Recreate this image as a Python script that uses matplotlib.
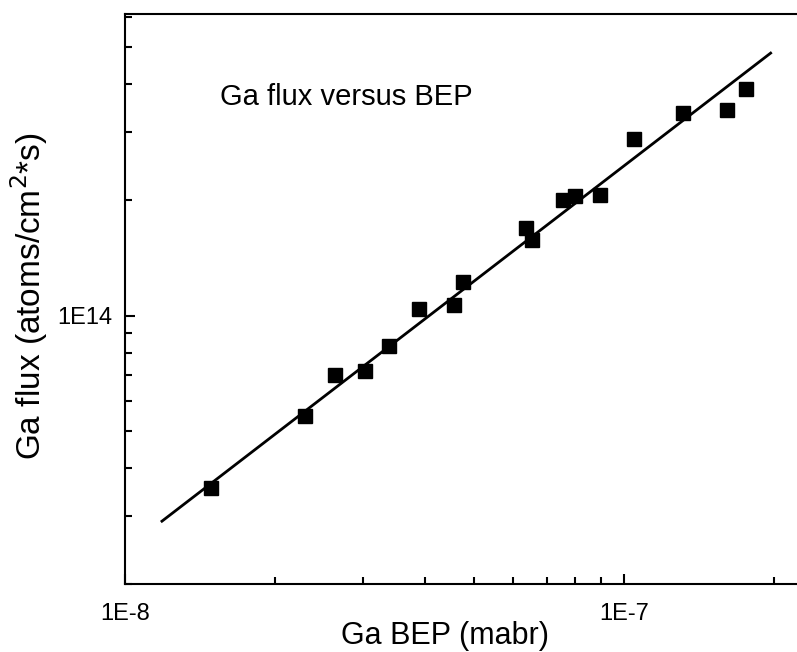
import matplotlib
matplotlib.use("Agg")
import matplotlib.pyplot as plt
from matplotlib.ticker import LogLocator, NullFormatter, FixedLocator, FixedFormatter

plt.rcParams['font.family'] = ['Liberation Sans', 'DejaVu Sans']

# Data
bep = [1.49e-8, 2.30e-8, 2.64e-8, 3.03e-8, 3.38e-8, 3.89e-8, 4.57e-8, 4.76e-8,
       6.36e-8, 6.54e-8, 7.55e-8, 7.97e-8, 8.97e-8, 1.047e-7, 1.315e-7, 1.61e-7, 1.756e-7]
flux = [3.56e13, 5.47e13, 7.02e13, 7.19e13, 8.32e13, 1.041e14, 1.066e14, 1.221e14,
        1.692e14, 1.575e14, 2.00e14, 2.045e14, 2.06e14, 2.89e14, 3.36e14, 3.44e14, 3.885e14]
fit_x = [1.18e-8, 1.98e-7]
fit_y = [2.90e13, 4.85e14]

x_ticks = [1e-8, 1e-7]
x_ticklabels = ["1E-8", "1E-7"]
y_ticks = [1e14]
y_ticklabels = ["1E14"]

W, H = 797, 652
fig = plt.figure(figsize=(W / 100, H / 100), dpi=100)
ax = fig.add_axes([125 / W, (H - 584) / H, 682 / W, 570 / H])

ax.plot(fit_x, fit_y, color='black', lw=2.0, solid_capstyle='butt')
ax.plot(bep, flux, linestyle='none', marker='s', markersize=10, color='black')

ax.set_xscale('log')
ax.set_yscale('log')
ax.set_xlim(1e-8, 2.33e-7)
ax.set_ylim(2e13, 6.1e14)

ax.xaxis.set_major_locator(FixedLocator(x_ticks))
ax.xaxis.set_major_formatter(FixedFormatter(x_ticklabels))
ax.yaxis.set_major_locator(FixedLocator(y_ticks))
ax.yaxis.set_major_formatter(FixedFormatter(y_ticklabels))
ax.xaxis.set_minor_locator(LogLocator(base=10, subs=range(2, 10)))
ax.yaxis.set_minor_locator(LogLocator(base=10, subs=range(2, 10)))
ax.xaxis.set_minor_formatter(NullFormatter())
ax.yaxis.set_minor_formatter(NullFormatter())

for s in ax.spines.values():
    s.set_linewidth(1.5)
ax.tick_params(which='both', direction='in', width=1.5, top=False, right=True)
ax.tick_params(which='major', length=7.5, labelsize=17)
ax.tick_params(which='minor', length=5)
ax.tick_params(axis='x', which='major', pad=14)
ax.tick_params(axis='y', which='major', pad=9)

fig.text(445 / W, 1 - 636 / H, "Ga BEP (mabr)", fontsize=22, ha='center', va='center')
fig.text(29 / W, 1 - 296 / H, "Ga flux (atoms/cm$^2$*s)", fontsize=24,
         rotation=90, ha='center', va='center')
ax.text((220 - 125) / 682, 1 - (97 - 14) / 570, "Ga flux versus BEP", transform=ax.transAxes,
        fontsize=21, ha='left', va='center')

fig.savefig("out.png", dpi=100)
